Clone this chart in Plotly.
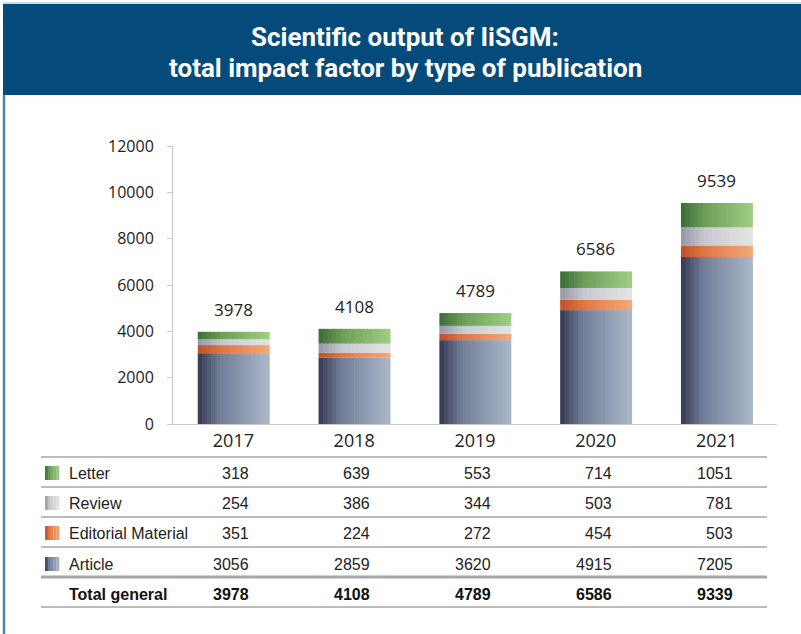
import plotly.graph_objects as go

# ---------------- data ----------------
years = ["2017", "2018", "2019", "2020", "2021"]
article = [3056, 2859, 3620, 4915, 7205]
editorial = [351, 224, 272, 454, 503]
review = [254, 386, 344, 503, 781]
letter = [318, 639, 553, 714, 1051]
bar_totals = [3978, 4108, 4789, 6586, 9539]
table_totals = [3978, 4108, 4789, 6586, 9339]
series_names = ["Article", "Editorial Material", "Review", "Letter"]
y_ticks = [0, 2000, 4000, 6000, 8000, 10000, 12000]
title_lines = ["Scientific output of IiSGM:", "total impact factor by type of publication"]

# ---------------- style ----------------
W, H = 801, 634
ML, MR, MT, MB = 173, 24, 146, 210
PW, PH = W - ML - MR, H - MT - MB

def px(x):
    return (x - ML) / PW

def py(y):
    return (H - MB - y) / PH

gradients = {
    "Article": [(0.0, (52, 55, 82)), (0.3, (112, 124, 150)), (1.0, (170, 184, 200))],
    "Editorial Material": [(0.0, (190, 80, 40)), (0.35, (226, 120, 70)), (1.0, (244, 168, 120))],
    "Review": [(0.0, (150, 150, 165)), (0.35, (200, 202, 208)), (1.0, (226, 228, 228))],
    "Letter": [(0.0, (60, 108, 56)), (0.35, (110, 160, 90)), (1.0, (158, 206, 130))],
}

def grad_color(stops, t):
    for (t0, c0), (t1, c1) in zip(stops[:-1], stops[1:]):
        if t0 <= t <= t1:
            f = (t - t0) / (t1 - t0) if t1 > t0 else 0
            c = [round(a + (b - a) * f) for a, b in zip(c0, c1)]
            return "rgb(%d,%d,%d)" % tuple(c)
    c = stops[-1][1]
    return "rgb(%d,%d,%d)" % c

series_values = {"Article": article, "Editorial Material": editorial, "Review": review, "Letter": letter}

fig = go.Figure()
bar_w = 0.59
N = 16
base = [0] * len(years)
for name in series_names:
    vals = series_values[name]
    for i in range(N):
        t = (i + 0.5) / N
        fig.add_trace(go.Bar(
            x=years, y=vals, base=base,
            width=bar_w / N * 1.15, offset=-bar_w / 2 + i * bar_w / N,
            marker=dict(color=grad_color(gradients[name], t), line=dict(width=0)),
            showlegend=False, hoverinfo="skip",
        ))
    base = [b + v for b, v in zip(base, vals)]

annotations = []
# totals above bars (category axis: position by category index)
for ci, tot in enumerate(bar_totals):
    annotations.append(dict(x=ci, y=tot, xref="x", yref="y", text=str(tot), showarrow=False,
                            yanchor="bottom", yshift=9, font=dict(family="Open Sans", size=17, color="#222")))

# title banner
shapes = [
    dict(type="rect", xref="paper", yref="paper", x0=px(3), x1=px(801), y0=py(95), y1=py(4),
         fillcolor="#044b7b", line=dict(width=0), layer="below"),
    dict(type="line", xref="paper", yref="paper", x0=px(3), x1=px(801), y0=py(3), y1=py(3),
         line=dict(color="#b9d1e3", width=1.5)),
    dict(type="line", xref="paper", yref="paper", x0=px(4), x1=px(4), y0=py(95), y1=py(634),
         line=dict(color="#5284ad", width=2.5)),
]
for line, ypos in zip(title_lines, [37, 68]):
    annotations.append(dict(x=px(405), y=py(ypos), xref="paper", yref="paper", text="<b>%s</b>" % line,
                            showarrow=False, xanchor="center", yanchor="middle",
                            font=dict(family="Roboto", size=26, color="white")))

# data table
row_names = ["Letter", "Review", "Editorial Material", "Article"]
row_y = [473, 503, 533, 564]
table_font = dict(family="Liberation Sans, Arial", size=16, color="#222")
for rn, ry in zip(row_names, row_y):
    annotations.append(dict(x=px(67), y=py(ry), xref="paper", yref="paper", text=rn, showarrow=False,
                            xanchor="left", yanchor="middle", font=table_font))
    for ci, v in enumerate(series_values[rn]):
        annotations.append(dict(x=ci, y=py(ry), xref="x", yref="paper", text=str(v), showarrow=False,
                                xanchor="right", yanchor="middle", xshift=18, font=table_font))
    # legend swatch
    k = 5
    for i in range(k):
        x0 = 45 + i * 14 / k
        shapes.append(dict(type="rect", xref="paper", yref="paper", x0=px(x0), x1=px(x0 + 14 / k + 0.3),
                           y0=py(ry + 7), y1=py(ry - 7), fillcolor=grad_color(gradients[rn], (i + 0.5) / k),
                           line=dict(width=0)))
bold_font = dict(family="Liberation Sans, Arial", size=16, color="#111")
annotations.append(dict(x=px(67), y=py(594), xref="paper", yref="paper", text="<b>Total general</b>",
                        showarrow=False, xanchor="left", yanchor="middle", font=bold_font))
for ci, v in enumerate(table_totals):
    annotations.append(dict(x=ci, y=py(594), xref="x", yref="paper", text="<b>%d</b>" % v, showarrow=False,
                            xanchor="right", yanchor="middle", xshift=18, font=bold_font))
for ly, lw in zip([457, 487, 517, 547, 577, 607], [1.5, 1.5, 1.5, 1.5, 3, 1.5]):
    shapes.append(dict(type="line", xref="paper", yref="paper", x0=px(41), x1=px(767), y0=py(ly), y1=py(ly),
                       line=dict(color="#a6a6a6", width=lw)))

fig.update_layout(
    width=W, height=H, margin=dict(l=ML, r=MR, t=MT, b=MB, autoexpand=False),
    paper_bgcolor="white", plot_bgcolor="white", barmode="overlay",
    annotations=annotations, shapes=shapes,
    xaxis=dict(type="category", categoryorder="array", categoryarray=years, range=[-0.5, 4.5],
               showgrid=False, showline=True, linecolor="#c8c8c8", linewidth=1, automargin=False,
               ticks="", tickfont=dict(family="Open Sans", size=18, color="#222"), fixedrange=True),
    yaxis=dict(range=[0, 12000], tickvals=y_ticks, ticktext=[str(v) for v in y_ticks],
               showgrid=False, showline=True, linecolor="#c8c8c8", automargin=False,
               linewidth=1, ticks="outside", ticklen=5, tickcolor="#c8c8c8", zeroline=False,
               ticklabelstandoff=10,
               tickfont=dict(family="Open Sans", size=16, color="#222"), fixedrange=True),
)

fig.write_html("out.html", config={"displayModeBar": False},
               post_script="document.body.style.margin='0';document.body.style.overflow='hidden';")
